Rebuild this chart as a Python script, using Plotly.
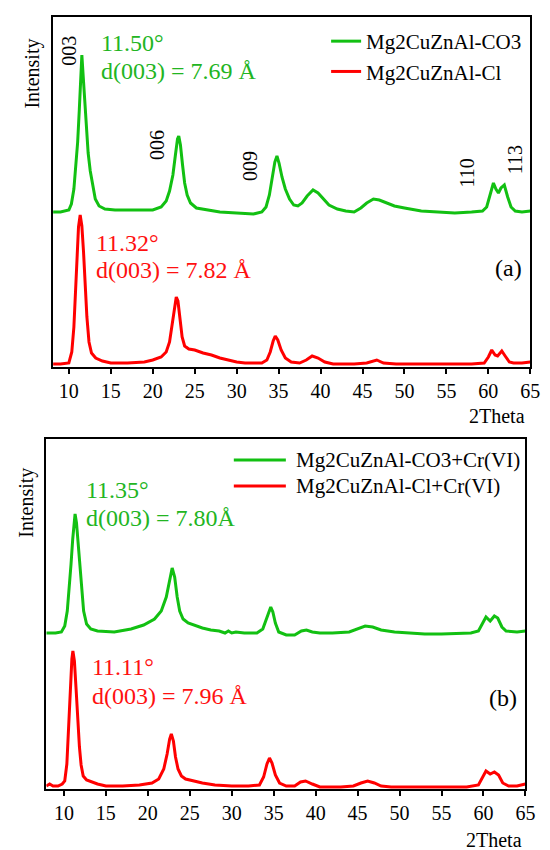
import plotly.graph_objects as go

# Panel (a) - as synthesised
tt_co3 = [8.1, 9.0, 10.0, 10.3, 10.6, 10.85, 11.05, 11.25, 11.4, 11.55, 11.7, 11.9, 12.1, 12.3, 12.55,
          12.85, 13.15, 13.6, 14.3, 15.5, 17.0, 19.0, 20.0, 21.0, 21.6, 22.0, 22.4, 22.7, 22.95, 23.1,
          23.3, 23.55, 23.8, 24.1, 24.5, 25.2, 26.5, 28.0, 30.0, 32.0, 33.0, 33.5, 33.9, 34.25, 34.55,
          34.8, 35.05, 35.4, 35.8, 36.3, 36.8, 37.3, 37.8, 38.4, 39.1, 39.7, 40.3, 41.0, 42.0, 43.0,
          44.0, 44.8, 45.5, 46.3, 47.0, 47.8, 48.8, 50.0, 52.0, 54.0, 56.0, 58.0, 59.3, 59.8, 60.2,
          60.6, 60.9, 61.2, 61.5, 61.9, 62.3, 62.7, 63.2, 64.0, 65.0]
int_co3 = [155, 155, 157, 163, 178, 200, 225, 258, 290, 312, 292, 264, 238, 214, 196,
           180, 168, 161, 158, 157, 157, 157, 157, 160, 166, 176, 192, 212, 228, 231,
           222, 202, 184, 172, 164, 159, 157, 155, 154, 153, 155, 160, 172, 190, 205,
           211, 204, 190, 178, 168, 162, 161, 164, 171, 177, 174, 168, 162, 158, 156,
           155, 159, 164, 168, 167, 164, 161, 159, 156, 155, 154, 155, 156, 160, 172,
           184, 178, 174, 179, 182, 170, 160, 156, 155, 156]

tt_cl = [8.1, 9.0, 10.0, 10.35, 10.6, 10.8, 10.95, 11.15, 11.35, 11.55, 11.75, 11.95, 12.15, 12.4, 12.7,
         13.2, 14.0, 15.0, 17.0, 19.0, 20.0, 21.0, 21.6, 22.0, 22.35, 22.6, 22.8, 23.0, 23.25, 23.5,
         23.8, 24.3, 25.0, 26.0, 27.0, 28.0, 29.0, 30.0, 31.0, 33.0, 33.6, 34.0, 34.35, 34.6, 34.9,
         35.3, 35.8, 36.5, 37.5, 38.3, 39.0, 39.7, 40.5, 41.5, 44.0, 45.5, 46.7, 47.5, 49.0, 52.0,
         55.0, 58.0, 59.5, 60.0, 60.4, 60.8, 61.1, 61.6, 62.0, 62.5, 63.0, 64.0, 65.0]
int_cl = [3, 3, 4, 15, 40, 75, 108, 140, 152, 141, 115, 82, 50, 25, 14,
          9, 6, 4, 4, 5, 7, 10, 15, 25, 45, 62, 70, 66, 48, 30,
          21, 18, 17, 14, 12, 9, 7, 5, 4, 4, 7, 15, 26, 31, 27,
          17, 9, 5, 4, 7, 11, 9, 5, 3, 3, 4, 7, 4, 3, 3,
          3, 3, 4, 10, 17, 12, 11, 16, 11, 5, 4, 4, 5]

# Panel (b) - after Cr(VI)
tt_co3_cr = [7.9, 9.0, 9.7, 10.1, 10.4, 10.65, 10.85, 11.05, 11.2, 11.33, 11.5, 11.7, 11.9, 12.1, 12.35,
             12.7, 13.2, 14.0, 16.0, 18.0, 19.5, 20.8, 21.6, 22.2, 22.6, 22.9, 23.2, 23.5, 23.8, 24.2,
             24.8, 25.5, 26.5, 27.5, 28.5, 29.2, 29.6, 30.0, 30.5, 31.5, 33.0, 33.7, 34.1, 34.4, 34.65,
             34.9, 35.2, 35.6, 36.5, 37.5, 38.3, 38.9, 39.6, 40.5, 42.0, 44.0, 45.2, 45.9, 46.8, 47.8,
             49.4, 51.0, 53.0, 55.0, 57.0, 58.5, 59.4, 59.9, 60.3, 60.8, 61.3, 61.7, 62.2, 62.7, 64.0,
             65.0]
int_co3_cr = [156, 156, 157, 163, 178, 200, 225, 250, 268, 275, 266, 245, 220, 197, 178,
              165, 160, 158, 157, 160, 164, 170, 178, 192, 210, 221, 212, 192, 178, 170,
              166, 164, 161, 159, 158, 156, 158, 156, 157, 156, 156, 160, 170, 178, 182,
              177, 166, 157, 154, 154, 158, 159, 157, 156, 156, 157, 161, 163, 162, 159,
              157, 156, 155, 155, 156, 156, 158, 166, 172, 168, 173, 171, 162, 158, 157,
              158]

tt_cl_cr = [7.9, 8.3, 8.7, 9.3, 9.8, 10.1, 10.35, 10.55, 10.75, 10.95, 11.07, 11.25, 11.45, 11.65, 11.85,
            12.05, 12.3, 12.7, 13.3, 14.0, 15.0, 17.0, 19.0, 20.5, 21.3, 21.9, 22.3, 22.6, 22.8, 23.05,
            23.3, 23.6, 24.0, 24.5, 25.5, 26.5, 28.0, 30.0, 32.0, 33.3, 33.8, 34.2, 34.5, 34.8, 35.2,
            35.7, 36.5, 37.5, 38.2, 38.8, 39.6, 40.5, 43.0, 44.5, 45.4, 46.2, 47.0, 47.8, 49.0, 52.0,
            55.0, 58.0, 59.4, 59.9, 60.3, 60.8, 61.3, 61.8, 62.3, 63.0, 64.0, 65.0]
int_cl_cr = [3, 5, 3, 3, 5, 8, 25, 60, 100, 130, 138, 128, 100, 70, 42,
             24, 13, 9, 7, 5, 3, 3, 4, 6, 10, 20, 35, 50, 55, 48,
             32, 20, 13, 10, 8, 6, 4, 3, 3, 4, 12, 25, 31, 26, 14,
             6, 3, 3, 7, 8, 5, 2, 2, 3, 6, 8, 6, 3, 2, 2,
             2, 2, 4, 12, 18, 15, 17, 14, 6, 3, 3, 5]

names_a = ['Mg2CuZnAl-CO3', 'Mg2CuZnAl-Cl']
names_b = ['Mg2CuZnAl-CO3+Cr(VI)', 'Mg2CuZnAl-Cl+Cr(VI)']
hkl_labels = ['003', '006', '009', '110', '113']

W, H = 550, 850
FONT = 'Liberation Serif'
GREEN = '#12c012'
RED = '#ff0000'
TXT_GREEN = '#22b522'
TXT_RED = '#ff1010'
DEG = '&#176;'   # degree sign
ANG = '&#197;'   # angstrom


def px(x):
    return x / W


def py(y):
    return 1 - y / H


fig = go.Figure()

fig.add_trace(go.Scatter(x=tt_co3, y=int_co3, mode='lines', name=names_a[0],
                         line=dict(color=GREEN, width=3), xaxis='x', yaxis='y'))
fig.add_trace(go.Scatter(x=tt_cl, y=int_cl, mode='lines', name=names_a[1],
                         line=dict(color=RED, width=3), xaxis='x', yaxis='y'))
# panel (b) gets its own key drawn below
fig.add_trace(go.Scatter(x=tt_co3_cr, y=int_co3_cr, mode='lines', name=names_b[0], showlegend=False,
                         line=dict(color=GREEN, width=3), xaxis='x2', yaxis='y2'))
fig.add_trace(go.Scatter(x=tt_cl_cr, y=int_cl_cr, mode='lines', name=names_b[1], showlegend=False,
                         line=dict(color=RED, width=3), xaxis='x2', yaxis='y2'))

xax = dict(tickvals=list(range(10, 70, 5)), ticks='outside', ticklen=5, tickwidth=1.5,
           tickcolor='black', showline=True, linecolor='black', linewidth=2, mirror=True,
           showgrid=False, zeroline=False,
           tickfont=dict(family=FONT, size=20, color='black'))
yax = dict(range=[0, 350], showticklabels=False, showline=True, linecolor='black',
           linewidth=2, mirror=True, showgrid=False, zeroline=False)

annotations = []


def text(x, y, s, color, size, xref='paper', yref='paper', xanchor='left', angle=0):
    annotations.append(dict(x=x, y=y, text=s, xref=xref, yref=yref, xanchor=xanchor,
                            yanchor='middle', textangle=angle, showarrow=False,
                            font=dict(family=FONT, size=size, color=color)))


# hkl labels (panel a)
hkl_pos = [(10.0, 316), (20.5, 222), (31.6, 201), (57.5, 194), (63.2, 207)]
for lab, (hx, hy) in zip(hkl_labels, hkl_pos):
    text(hx, hy, lab, 'black', 20, 'x', 'y', 'center', -90)

# peak position notes
text(13.6, 324, '11.50' + DEG, TXT_GREEN, 24, 'x', 'y')
text(13.6, 296, 'd(003) = 7.69 ' + ANG, TXT_GREEN, 24, 'x', 'y')
text(13.0, 124, '11.32' + DEG, TXT_RED, 24, 'x', 'y')
text(13.0, 97, 'd(003) = 7.82 ' + ANG, TXT_RED, 24, 'x', 'y')
text(64.2, 99, '(a)', 'black', 24, 'x', 'y', 'right')

text(12.35, 299, '11.35' + DEG, TXT_GREEN, 24, 'x2', 'y2')
text(12.35, 271, 'd(003) = 7.80' + ANG, TXT_GREEN, 24, 'x2', 'y2')
text(13.06, 122, '11.11' + DEG, TXT_RED, 24, 'x2', 'y2')
text(13.06, 93, 'd(003) = 7.96 ' + ANG, TXT_RED, 24, 'x2', 'y2')
text(64.2, 91, '(b)', 'black', 24, 'x2', 'y2', 'right')

# axis titles
text(px(25), py(66), 'Intensity', 'black', 20, angle=-90, xanchor='center')
text(px(18), py(495), 'Intensity', 'black', 20, angle=-90, xanchor='center')
text(px(529), py(408), '2Theta', 'black', 20, xanchor='right')
text(px(526), py(832), '2Theta', 'black', 20, xanchor='right')

# key for panel (b)
key_rows = [452, 478]
key_shapes = []
for name, col, row in zip(names_b, [GREEN, RED], key_rows):
    key_shapes.append(dict(type='line', xref='paper', yref='paper', x0=px(230), x1=px(283),
                           y0=py(row), y1=py(row), line=dict(color=col, width=3)))
    text(px(291), py(row), name, 'black', 21)

fig.update_layout(
    width=W, height=H,
    margin=dict(l=0, r=0, t=0, b=0),
    font=dict(family=FONT, color='black'),
    plot_bgcolor='white',
    xaxis=dict(xax, domain=[px(46), px(532)], range=[8.13, 65], anchor='y'),
    yaxis=dict(yax, domain=[py(359), py(9)], anchor='x'),
    xaxis2=dict(xax, domain=[px(39), px(527)], range=[7.9, 65], anchor='y2'),
    yaxis2=dict(yax, domain=[py(781), py(431)], anchor='x2'),
    legend=dict(font=dict(family=FONT, size=21, color='black'),
                xanchor='left', yanchor='top', x=px(324), y=py(13)),
    annotations=annotations,
    shapes=key_shapes,
)

fig.write_html("out.html")
